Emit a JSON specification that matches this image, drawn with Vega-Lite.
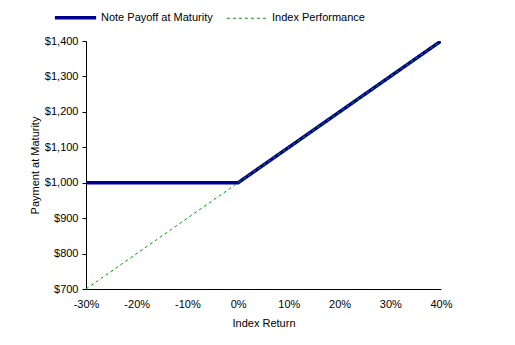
{
  "$schema": "https://vega.github.io/schema/vega-lite/v6.json",
  "autosize": "none",
  "width": 355,
  "height": 248,
  "padding": {"left": 86, "top": 41, "right": 74, "bottom": 56},
  "background": "white",
  "config": {
    "view": {"stroke": null},
    "font": "Liberation Sans",
    "axis": {"labelFont": "Liberation Sans", "titleFont": "Liberation Sans", "labelFontSize": 11, "titleFontSize": 11, "titleFontWeight": "normal", "labelColor": "black", "titleColor": "black", "domainColor": "black", "tickColor": "black", "grid": false}
  },
  "data": {"values": [
    {"ret": -0.3, "pay": 1000, "series": "Note Payoff at Maturity"},
    {"ret": 0.0, "pay": 1000, "series": "Note Payoff at Maturity"},
    {"ret": 0.4, "pay": 1400, "series": "Note Payoff at Maturity"},
    {"ret": -0.3, "pay": 700, "series": "Index Performance"},
    {"ret": 0.0, "pay": 1000, "series": "Index Performance"},
    {"ret": 0.4, "pay": 1400, "series": "Index Performance"}
  ]},
  "mark": {"type": "line", "clip": true},
  "encoding": {
    "x": {"field": "ret", "type": "quantitative", "title": "Index Return",
      "scale": {"domain": [-0.3, 0.4], "nice": false, "zero": false},
      "axis": {"format": ".0%", "labelExpr": "replace(datum.label, '\u2212', '-')", "values": [-0.3, -0.2, -0.1, 0, 0.1, 0.2, 0.3, 0.4], "ticks": false, "labelPadding": 9, "titlePadding": 8, "labelFlush": false}},
    "y": {"field": "pay", "type": "quantitative", "title": "Payment at Maturity",
      "scale": {"domain": [700, 1400], "nice": false, "zero": false},
      "axis": {"format": "$,.0f", "values": [700, 800, 900, 1000, 1100, 1200, 1300, 1400], "tickSize": 4, "labelPadding": 4, "titlePadding": 4, "labelFlush": false}},
    "color": {"field": "series", "type": "nominal",
      "scale": {"domain": ["Note Payoff at Maturity", "Index Performance"], "range": ["#000090", "#00a000"]},
      "legend": {"orient": "none", "legendX": -33, "legendY": -46, "direction": "horizontal", "title": null, "symbolType": "stroke", "symbolSize": 1700, "labelFontSize": 11, "labelFont": "Liberation Sans", "labelColor": "black", "labelOffset": 3, "columnPadding": 11}},
    "strokeWidth": {"field": "series", "type": "nominal",
      "scale": {"domain": ["Note Payoff at Maturity", "Index Performance"], "range": [3.5, 1]}, "legend": null},
    "strokeDash": {"field": "series", "type": "nominal",
      "scale": {"domain": ["Note Payoff at Maturity", "Index Performance"], "range": [[1, 0], [3, 3]]}, "legend": null},
    "order": {"field": "ret"}
  }
}
